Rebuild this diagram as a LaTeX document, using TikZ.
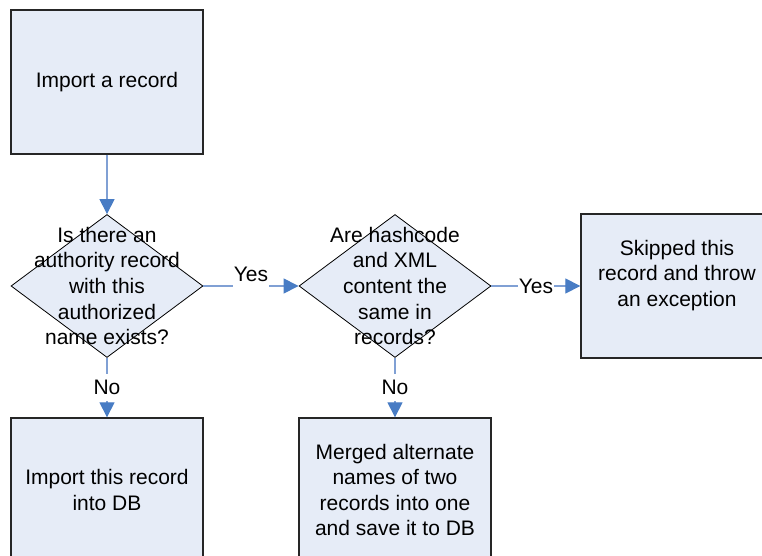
\documentclass[tikz,border=0pt]{standalone}
\usepackage{fontspec}
\setmainfont{Liberation Sans}
\usepackage{tikz}
\usetikzlibrary{shapes,arrows.meta,positioning}

\definecolor{boxfill}{RGB}{230,236,247}
\definecolor{linkcol}{RGB}{128,160,212}
\definecolor{tipcol}{RGB}{72,124,196}

\tikzset{
  txt/.style={font=\fontsize{21}{25.6}\selectfont},
  stepbox/.style={txt,draw=black!85,line width=1.3pt,fill=boxfill,rectangle,
    minimum width=192pt,minimum height=144pt,inner sep=0pt,align=center},
  decision/.style={draw=black,line width=0.8pt,fill=boxfill,diamond,
    minimum width=192pt,minimum height=143pt,inner sep=0pt},
  qtext/.style={txt,align=center,inner sep=0pt},
  link/.style={draw=linkcol,line width=1.1pt,
    -{Triangle[width=15pt,length=15pt,color=tipcol]}},
  lbl/.style={txt,fill=white,inner xsep=1pt,inner ysep=6pt}
}

\begin{document}
\begin{tikzpicture}[x=1pt,y=-1pt]
 \useasboundingbox (0,0) rectangle (762,556);

 \node[stepbox] (start) at (107,82) {Import a record};
 \node[decision] (exists) at (107,286) {};
 \node[qtext] (existstxt) at (exists) {Is there an\\authority record\\with this\\authorized\\name exists?};
 \node[decision] (same) at (395,286) {};
 \node[qtext] (sametxt) at (same) {Are hashcode\\and XML\\content the\\same in\\records?};
 \node[stepbox] (skip) at (677,286) {Skipped this\\record and throw\\an exception\\\mbox{}};
 \node[stepbox] (import) at (107,490) {Import this record\\into DB};
 \node[stepbox] (merge) at (395,490) {Merged alternate\\names of two\\records into one\\and save it to DB};

 \draw[link] (start.south) -- (exists.north);
 \draw[link] (exists.east) -- node[lbl,yshift=12pt] {Yes} (same.west);
 \draw[link] (same.east) -- node[lbl] {Yes} (skip.west);
 \draw[link] (exists.south) -- node[lbl] {No} (import.north);
 \draw[link] (same.south) -- node[lbl] {No} (merge.north);
\end{tikzpicture}
\end{document}
